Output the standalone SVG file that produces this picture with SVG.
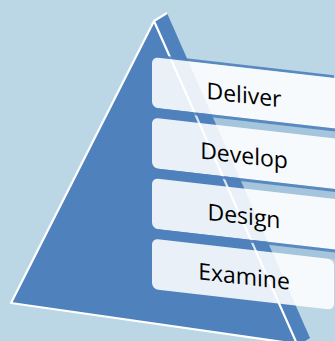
<svg xmlns="http://www.w3.org/2000/svg" width="335" height="341" viewBox="0 0 335 341">
<style>
.face{fill:#4F81BD;stroke:#FFFFFF;stroke-width:2.2;stroke-linejoin:round}
.card{fill:#FFFFFF;fill-opacity:0.88}
.edge{stroke:#4F81BD;stroke-width:3;stroke-opacity:0.9;fill:none}
.strip{fill:#4F81BD;fill-opacity:0.2}
.lbl{font-family:"Open Sans","Noto Sans",sans-serif;font-size:23px;fill:#000000;text-anchor:middle}
</style>
<rect x="0" y="0" width="335" height="341" fill="#BBD6E4"/>
<g id="pyramid">
  <polygon points="154,21 167,13 310,338 297,346" fill="#4F81BD"/>
  <polyline points="154,21 167,13" fill="none" stroke="#FFFFFF" stroke-width="2.2"/>
  <polygon class="face" points="154,21 11,303 297,344"/>
</g>
<g id="cards" transform="matrix(1 0.115 0 1 0 -17.48)">
  <line class="edge" x1="160" y1="55.8" x2="334" y2="55.8"/>
  <g id="card-deliver">
    <rect class="card" x="152" y="57" width="190" height="50.5" rx="6"/>
    <line class="edge" x1="152" y1="109" x2="342" y2="109"/>
    <rect class="strip" x="152" y="110.5" width="190" height="7"/>
    <text class="lbl" x="244" y="92.5">Deliver</text>
  </g>
  <g id="card-develop">
    <rect class="card" x="152" y="117.5" width="190" height="50.5" rx="6"/>
    <line class="edge" x1="152" y1="169.5" x2="342" y2="169.5"/>
    <rect class="strip" x="152" y="171" width="190" height="7"/>
    <text class="lbl" x="244" y="153">Develop</text>
  </g>
  <g id="card-design">
    <rect class="card" x="152" y="178" width="190" height="50.5" rx="6"/>
    <line class="edge" x1="152" y1="230" x2="342" y2="230"/>
    <rect class="strip" x="152" y="231.5" width="190" height="7"/>
    <text class="lbl" x="244" y="213.5">Design</text>
  </g>
  <g id="card-examine">
    <rect class="card" x="152" y="238.5" width="182" height="50.5" rx="6"/>
    <text class="lbl" x="244" y="274">Examine</text>
  </g>
</g>
</svg>
